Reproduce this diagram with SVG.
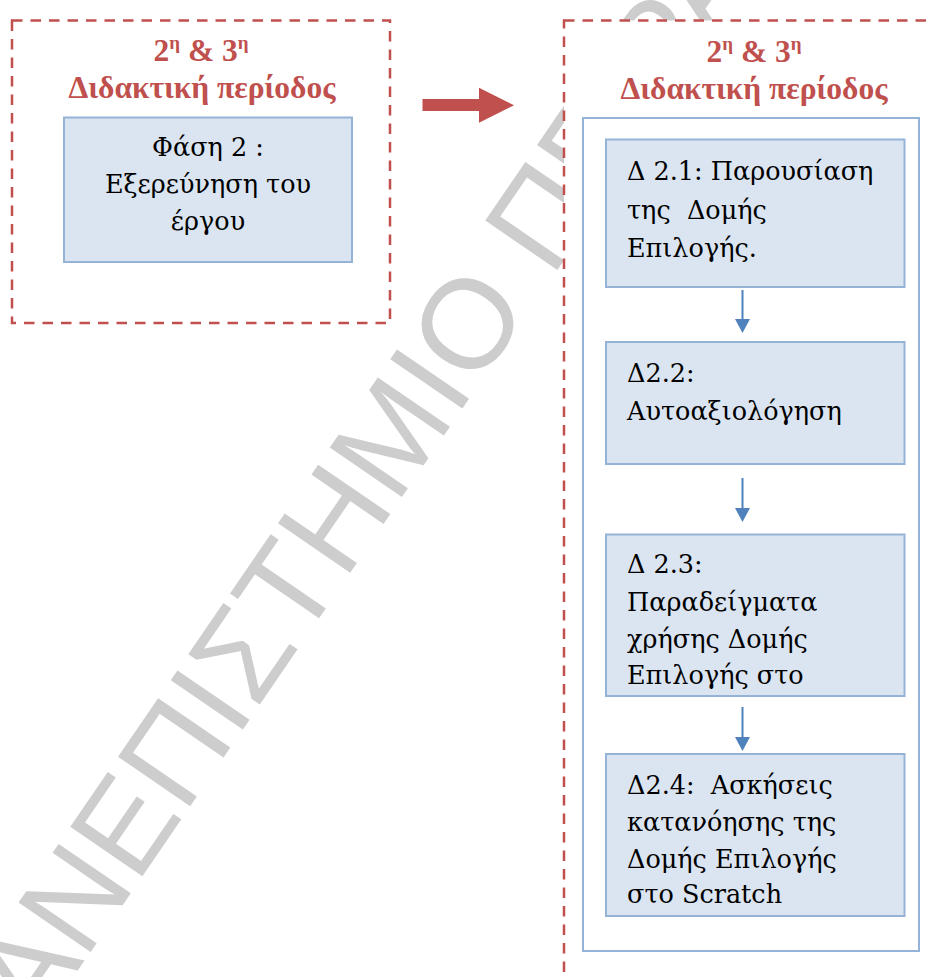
<svg xmlns="http://www.w3.org/2000/svg" width="933" height="977" viewBox="0 0 933 977">
  <style>
    .frame { fill: #ffffff; stroke: #c0504d; stroke-width: 2.5; stroke-dasharray: 10.5 8; }
    .title { font-family: "Liberation Serif", "Times New Roman", serif; font-weight: bold; font-size: 31.5px; fill: #c0504d; text-anchor: middle; }
    .sup { font-size: 19px; }
    .box { fill: #dbe5f1; stroke: #95b3d7; stroke-width: 2; }
    .holder { fill: #ffffff; stroke: #95b3d7; stroke-width: 2; }
    .txt { font-family: "DejaVu Serif", "Liberation Serif", serif; font-size: 25.5px; fill: #000000; }
    .pre { white-space: pre; }
    .mid { text-anchor: middle; }
    .flow { stroke: #4f81bd; stroke-width: 2; fill: none; }
    .head { fill: #4f81bd; }
    .mark { font-family: "Liberation Sans", Arial, sans-serif; font-size: 127px; fill: #cdcdcd; }
  </style>

  <!-- diagonal watermark, sits behind everything -->
  <g id="watermark">
    <text class="mark" transform="translate(-15,1106) rotate(-55.6)">ΠΑΝΕΠΙΣΤΗΜΙΟ ΠΕΙΡΑΙΩΣ</text>
  </g>

  <!-- left period frame with its phase box -->
  <g id="period-left">
    <rect class="frame" x="12" y="20.5" width="378" height="302.5"/>
    <text class="title" x="201" y="61">2<tspan class="sup" dy="-12">η</tspan><tspan dy="12"> &amp; 3</tspan><tspan class="sup" dy="-12">η</tspan></text>
    <text class="title" x="202" y="98">Διδακτική περίοδος</text>
  </g>
  <g id="phase2">
    <rect class="box" x="64" y="117.5" width="288" height="144.5"/>
    <text class="txt mid" x="208" y="156">Φάση 2 :</text>
    <text class="txt mid" x="208" y="193">Εξερεύνηση του</text>
    <text class="txt mid" x="208" y="230">έργου</text>
  </g>

  <!-- right period frame, runs off the page -->
  <g id="period-right">
    <rect class="frame" x="564" y="20.5" width="420" height="990"/>
    <text class="title" x="754" y="62">2<tspan class="sup" dy="-12">η</tspan><tspan dy="12"> &amp; 3</tspan><tspan class="sup" dy="-12">η</tspan></text>
    <text class="title" x="754" y="99">Διδακτική περίοδος</text>
    <rect class="holder" x="583" y="118" width="336" height="833"/>
  </g>

  <g id="d21">
    <rect class="box" x="606" y="139.5" width="298.5" height="147.5"/>
    <text class="txt" x="627" y="180">Δ 2.1: Παρουσίαση</text>
    <text class="txt pre" x="627" y="219" xml:space="preserve">της  Δομής</text>
    <text class="txt" x="627" y="257">Επιλογής.</text>
  </g>
  <g id="d22">
    <rect class="box" x="606" y="342" width="298.5" height="122"/>
    <text class="txt" x="627" y="382">Δ2.2:</text>
    <text class="txt" x="627" y="420">Αυτοαξιολόγηση</text>
  </g>
  <g id="d23">
    <rect class="box" x="606" y="534.5" width="298.5" height="161.5"/>
    <text class="txt" x="627" y="573">Δ 2.3:</text>
    <text class="txt" x="627" y="611">Παραδείγματα</text>
    <text class="txt" x="627" y="648">χρήσης Δομής</text>
    <text class="txt" x="627" y="684">Επιλογής στο</text>
  </g>
  <g id="d24">
    <rect class="box" x="606" y="754" width="298.5" height="162"/>
    <text class="txt pre" x="627" y="794" xml:space="preserve">Δ2.4:  Ασκήσεις</text>
    <text class="txt" x="627" y="831">κατανόησης της</text>
    <text class="txt" x="627" y="868">Δομής Επιλογής</text>
    <text class="txt" x="627" y="903">στο Scratch</text>
  </g>

  <g id="connectors">
    <polygon fill="#c0504d" points="422.5,99 479,99 479,87.7 514,105.3 479,122.7 479,111 422.5,111"/>
    <line class="flow" x1="742.5" y1="290" x2="742.5" y2="320"/>
    <polygon class="head" points="735,319 750,319 742.5,333"/>
    <line class="flow" x1="742.5" y1="478" x2="742.5" y2="509"/>
    <polygon class="head" points="735,508 750,508 742.5,522"/>
    <line class="flow" x1="742.5" y1="707" x2="742.5" y2="738"/>
    <polygon class="head" points="735,737 750,737 742.5,751"/>
  </g>
</svg>
